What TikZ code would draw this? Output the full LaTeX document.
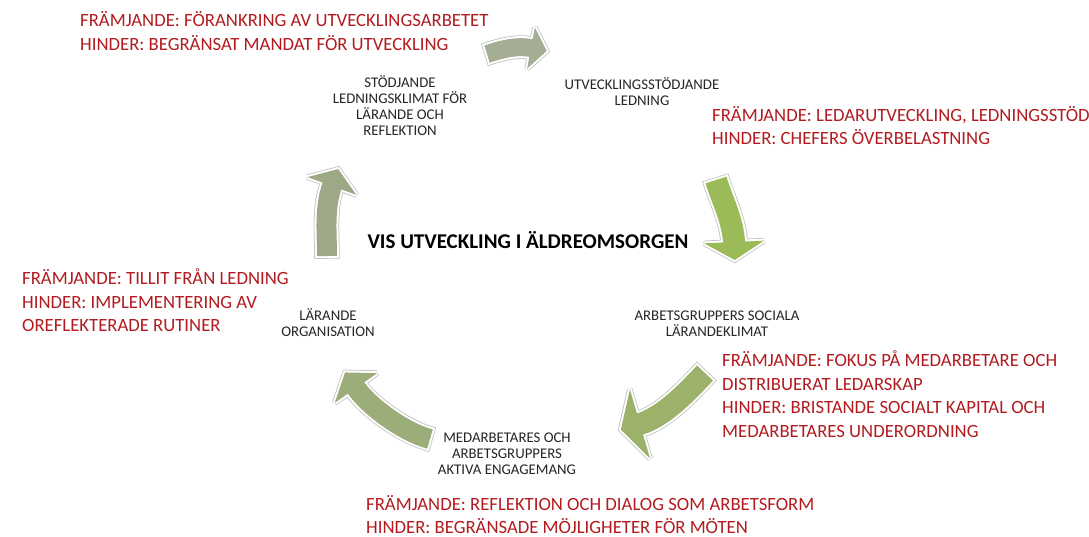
\documentclass[tikz,border=0pt]{standalone}
\usepackage{fontspec}
\setmainfont{Carlito}
\usetikzlibrary{calc}

\definecolor{factorred}{RGB}{178,28,32}
\definecolor{stagegrey}{RGB}{38,38,38}
\definecolor{rimgrey}{RGB}{190,190,190}
\definecolor{arrowA}{RGB}{164,174,148}
\definecolor{arrowB}{RGB}{155,187,89}
\definecolor{arrowC}{RGB}{156,178,107}
\definecolor{arrowD}{RGB}{155,173,121}
\definecolor{arrowE}{RGB}{157,169,134}

% text nodes are placed by the baseline of their last line
\tikzset{
  factor/.style={anchor=base west, align=left, inner sep=0pt, text=factorred,
    font=\fontsize{18.7}{23.5}\selectfont},
  stage/.style={anchor=base, align=center, inner sep=0pt, text=stagegrey,
    font=\fontsize{14.8}{16}\selectfont},
  headline/.style={anchor=base, inner sep=0pt, text=black,
    font=\bfseries\fontsize{21}{24}\selectfont},
}

% curved block arrow: #1 colour, #2 shaft width, #3 head half width,
% #4 head length, #5 tail, #6 first control, #7 second control, #8 head base
\newcommand\cyclearrow[8]{%
  \coordinate (at) at #5;
  \coordinate (ac1) at #6;
  \coordinate (ac2) at #7;
  \coordinate (ab) at #8;
  \coordinate (atip) at ($(ab)!-#4!(ac2)$);
  \coordinate (al) at ($(ab)!#3!90:(ac2)$);
  \coordinate (ar) at ($(ab)!#3!-90:(ac2)$);
  \draw[rimgrey, line width=#2+5.5pt, shorten <=-2.75pt]
    (at) .. controls (ac1) and (ac2) .. (ab);
  \draw[rimgrey, line width=5.5pt, miter limit=3] (al) -- (atip) -- (ar) -- cycle;
  \draw[white, line width=#2+4pt, shorten <=-2pt]
    (at) .. controls (ac1) and (ac2) .. (ab);
  \draw[white, line width=4pt, miter limit=3] (al) -- (atip) -- (ar) -- cycle;
  \draw[#1, line width=#2, shorten >=-1pt]
    (at) .. controls (ac1) and (ac2) .. (ab);
  \fill[#1] (al) -- (atip) -- (ar) -- cycle;
}

\begin{document}
\begin{tikzpicture}[x=1pt, y=-1pt]
  \useasboundingbox (0,0) rectangle (1089,537);
  \fill[white] (0,0) rectangle (1089,537);

  % cycle arrows
  \cyclearrow{arrowA}{18pt}{21pt}{16pt}{(487,54)}{(500,50)}{(515,45)}{(531,48)}
  \cyclearrow{arrowB}{22pt}{30pt}{18pt}{(716,180)}{(722,200)}{(733,220)}{(734,242)}
  \cyclearrow{arrowC}{22pt}{36pt}{20pt}{(705,373)}{(688,391)}{(664,417)}{(640,424)}
  \cyclearrow{arrowD}{20pt}{26pt}{19pt}{(430,439)}{(406,433)}{(370,408)}{(356,388)}
  \cyclearrow{arrowE}{20pt}{26pt}{18pt}{(327,256)}{(327,232)}{(324,208)}{(332,186)}

  % centre
  \node[headline] (title) at (528,249) {VIS UTVECKLING I ÄLDREOMSORGEN};

  % stages of the cycle
  \node[stage] (s1) at (400,136) {STÖDJANDE\\LEDNINGSKLIMAT FÖR\\LÄRANDE OCH\\REFLEKTION};
  \node[stage] (s2) at (642,106) {UTVECKLINGSSTÖDJANDE\\LEDNING};
  \node[stage] (s3) at (717,336) {ARBETSGRUPPERS SOCIALA\\LÄRANDEKLIMAT};
  \node[stage] (s4) at (507,474) {MEDARBETARES OCH\\ARBETSGRUPPERS\\AKTIVA ENGAGEMANG};
  \node[stage] (s5) at (328,336) {LÄRANDE\\ORGANISATION};

  % promoting factors and obstacles
  \node[factor] (f1) at (80,50.5) {FRÄMJANDE: FÖRANKRING AV UTVECKLINGSARBETET\\HINDER: BEGRÄNSAT MANDAT FÖR UTVECKLING};
  \node[factor] (f2) at (712,145) {FRÄMJANDE: LEDARUTVECKLING, LEDNINGSSTÖD\\HINDER: CHEFERS ÖVERBELASTNING};
  \node[factor] (f3) at (722,437) {FRÄMJANDE: FOKUS PÅ MEDARBETARE OCH\\DISTRIBUERAT LEDARSKAP\\HINDER: BRISTANDE SOCIALT KAPITAL OCH\\MEDARBETARES UNDERORDNING};
  \node[factor] (f4) at (366,533.5) {FRÄMJANDE: REFLEKTION OCH DIALOG SOM ARBETSFORM\\HINDER: BEGRÄNSADE MÖJLIGHETER FÖR MÖTEN};
  \node[factor] (f5) at (22,331.5) {FRÄMJANDE: TILLIT FRÅN LEDNING\\HINDER: IMPLEMENTERING AV\\OREFLEKTERADE RUTINER};
\end{tikzpicture}
\end{document}
